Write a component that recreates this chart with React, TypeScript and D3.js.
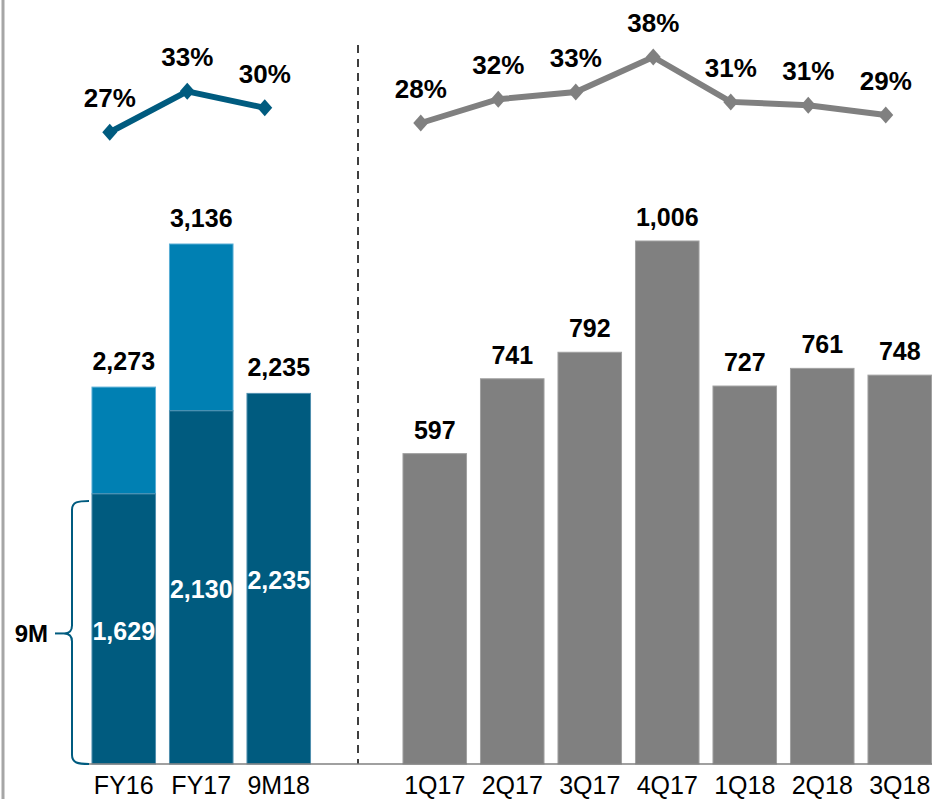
import * as d3 from "d3";

const annualCats = ["FY16", "FY17", "9M18"];
const annualNine = [1629, 2130, 2235];
const annualTotal = [2273, 3136, 2235];
const annualPct = [26.6, 32.8, 30.3];

const quarterCats = ["1Q17", "2Q17", "3Q17", "4Q17", "1Q18", "2Q18", "3Q18"];
const quarterValues = [597, 741, 792, 1006, 727, 761, 748];
const quarterPct = [28.0, 31.6, 32.7, 38.0, 31.2, 30.7, 29.2];

const W = 932;
const H = 799;
const DARK = "#005b7f";
const LIGHT = "#0080b3";
const GREY = "#808080";
const FONT = "'Liberation Sans', Arial, sans-serif";

export default function App() {
  const baseY = 764;

  const xL = d3.scaleBand<string>().domain(annualCats).range([85, 317.5]).paddingInner(0.18).paddingOuter(0.09);
  const xR = d3.scaleBand<string>().domain(quarterCats).range([396, 938.5]).paddingInner(0.18).paddingOuter(0.09);

  const yL = d3.scaleLinear().domain([0, 3136]).range([baseY, 244]);
  const yR = d3.scaleLinear().domain([0, 1006]).range([baseY, 241]);
  const yPct = d3.scaleLinear().domain([28, 38]).range([123, 57]);

  const markerOffset = -14;
  const fmt = d3.format(",");

  const lineL = d3
    .line<number>()
    .x((_, i) => xL(annualCats[i])! + xL.bandwidth() / 2 + markerOffset)
    .y(d => yPct(d));
  const lineR = d3
    .line<number>()
    .x((_, i) => xR(quarterCats[i])! + xR.bandwidth() / 2 + markerOffset)
    .y(d => yPct(d));

  const diamond = (cx: number, cy: number) => `M${cx},${cy - 8.5}L${cx + 7.5},${cy}L${cx},${cy + 8.5}L${cx - 7.5},${cy}Z`;

  // brace beside the FY16 nine-month segment
  const bTop = yL(annualNine[0]) + 7;
  const bBot = baseY;
  const bMid = (bTop + bBot) / 2 + 1;
  const bx = 72;
  const brace = `M89,${bTop} C78,${bTop} ${bx},${bTop + 1} ${bx},${bTop + 9} L${bx},${bMid - 8} C${bx},${bMid - 3} ${bx - 2},${bMid} ${bx - 8},${bMid} C${bx - 2},${bMid} ${bx},${bMid + 3} ${bx},${bMid + 8} L${bx},${bBot - 9} C${bx},${bBot - 1} 78,${bBot} 89,${bBot}`;

  return (
    <svg width={W} height={H} style={{ position: "absolute", left: 0, top: 0, background: "#fff" }} fontFamily={FONT}>
      {/* frame line on the left */}
      <line x1={3} x2={3} y1={0} y2={H} stroke="#a6a6a6" strokeWidth={3} />

      {/* divider */}
      <line x1={358} x2={358} y1={45} y2={baseY} stroke="#000" strokeWidth={1.5} strokeDasharray="8,6" />

      {/* annual bars */}
      {annualCats.map((c, i) => {
        const x = xL(c)!;
        const w = xL.bandwidth();
        return (
          <g key={c}>
            {annualTotal[i] > annualNine[i] && (
              <rect x={x} y={yL(annualTotal[i])} width={w} height={yL(annualNine[i]) - yL(annualTotal[i])} fill={LIGHT} stroke="#5aaed6" strokeWidth={1} />
            )}
            <rect x={x} y={yL(annualNine[i])} width={w} height={baseY - yL(annualNine[i])} fill={DARK} stroke="#4f8fae" strokeWidth={1} />
            <text x={x + w / 2} y={yL(annualTotal[i]) - 17} textAnchor="middle" fontSize={25} fontWeight="bold" fill="#000">
              {fmt(annualTotal[i])}
            </text>
            <text x={x + w / 2} y={(yL(annualNine[i]) + baseY) / 2 + 2} dy="0.35em" textAnchor="middle" fontSize={25} fontWeight="bold" fill="#fff">
              {fmt(annualNine[i])}
            </text>
            <text x={x + w / 2} y={794} textAnchor="middle" fontSize={25} fill="#000">
              {c}
            </text>
          </g>
        );
      })}

      {/* quarterly bars */}
      {quarterCats.map((c, i) => {
        const x = xR(c)!;
        const w = xR.bandwidth();
        return (
          <g key={c}>
            <rect x={x} y={yR(quarterValues[i])} width={w} height={baseY - yR(quarterValues[i])} fill={GREY} stroke="#a0a0a0" strokeWidth={1} />
            <text x={x + w / 2} y={yR(quarterValues[i]) - 15} textAnchor="middle" fontSize={25} fontWeight="bold" fill="#000">
              {fmt(quarterValues[i])}
            </text>
            <text x={x + w / 2} y={794} textAnchor="middle" fontSize={25} fill="#000">
              {c}
            </text>
          </g>
        );
      })}

      {/* baseline */}
      <line x1={85} x2={W} y1={baseY} y2={baseY} stroke={GREY} strokeWidth={1.5} />

      {/* brace + label */}
      <path d={brace} fill="none" stroke={DARK} strokeWidth={2} />
      <line x1={55} x2={bx - 8} y1={bMid} y2={bMid} stroke={DARK} strokeWidth={2} />
      <text x={48} y={bMid} dy="0.35em" textAnchor="end" fontSize={24} fontWeight="bold" fill="#000">
        9M
      </text>

      {/* margin lines */}
      <path d={lineL(annualPct) ?? ""} fill="none" stroke={DARK} strokeWidth={6} />
      {annualPct.map((p, i) => {
        const cx = xL(annualCats[i])! + xL.bandwidth() / 2 + markerOffset;
        const cy = yPct(p);
        return (
          <g key={"pl" + i}>
            <path d={diamond(cx, cy)} fill={DARK} />
            <text x={cx} y={cy - 25} textAnchor="middle" fontSize={26} fontWeight="bold" fill="#000">
              {Math.round(p)}%
            </text>
          </g>
        );
      })}

      <path d={lineR(quarterPct) ?? ""} fill="none" stroke={GREY} strokeWidth={6} />
      {quarterPct.map((p, i) => {
        const cx = xR(quarterCats[i])! + xR.bandwidth() / 2 + markerOffset;
        const cy = yPct(p);
        return (
          <g key={"pr" + i}>
            <path d={diamond(cx, cy)} fill={GREY} />
            <text x={cx} y={cy - 25} textAnchor="middle" fontSize={26} fontWeight="bold" fill="#000">
              {Math.round(p)}%
            </text>
          </g>
        );
      })}
    </svg>
  );
}
